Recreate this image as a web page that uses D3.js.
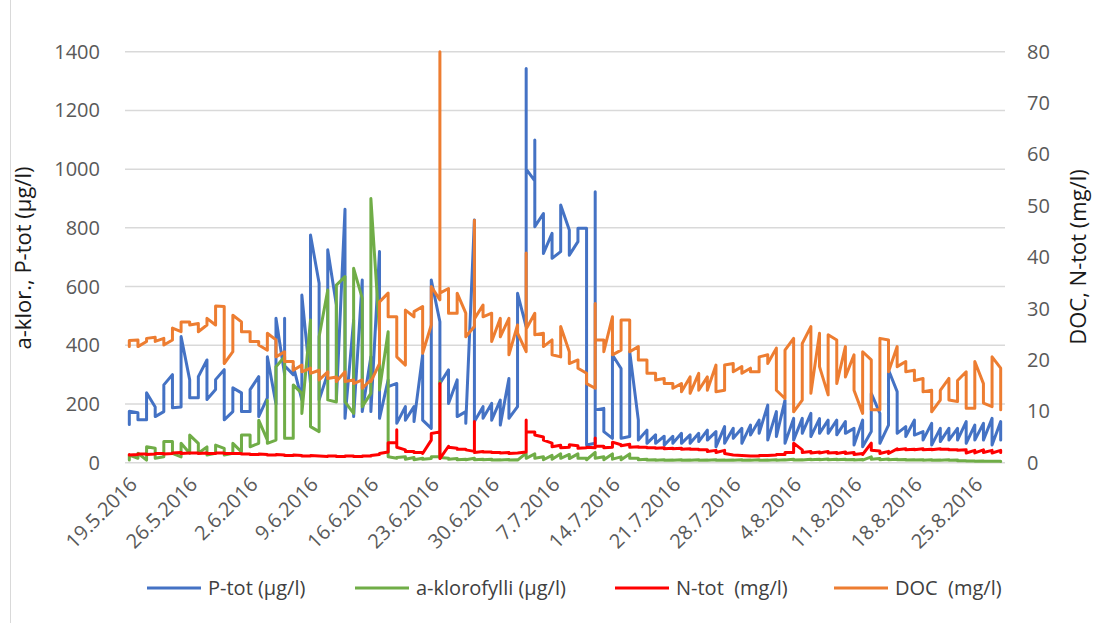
<!DOCTYPE html>
<html><head><meta charset="utf-8">
<script src="https://cdn.jsdelivr.net/npm/d3@7"></script>
<style>body{margin:0;background:#fff} text{font-family:"Open Sans","Noto Sans",sans-serif}</style>
</head><body><svg id="c" width="1109" height="623"></svg>
<script>
const startDate = "19.5.2016";
const tickLabels = ["19.5.2016","26.5.2016","2.6.2016","9.6.2016","16.6.2016","23.6.2016","30.6.2016","7.7.2016","14.7.2016","21.7.2016","28.7.2016","4.8.2016","11.8.2016","18.8.2016","25.8.2016"];
const leftTicks = [0,200,400,600,800,1000,1200,1400];
const rightTicks = [0,10,20,30,40,50,60,70,80];
const seriesNames = ["P-tot (µg/l)","a-klorofylli (µg/l)","N-tot  (mg/l)","DOC  (mg/l)"];
const seriesColors = ["#4472C4","#70AD47","#FF0000","#ED7D31"];

// values per day (several measurements per day share one date)
const ptot = [
[130,175],[170,146],[146,238],[190,157],[174,265],[300,187],[190,430],[282,221],[221,293],[350,215],
[249,283],[317,146],[174,255],[238,174],[174,249],[293,157],[221,361],[200,492],[300,492,330],[300,330],
[214,571],[270,776],[611,214],[304,725],[537,214],[863,151],[486,157],[622,174],[361,174],[719,151],
[282,259],[270,134],[191,145],[191,140],[367,145],[117,622],[480,270],[316,202],[282,157],[174,134],
[827,140],[191,151],[202,145],[213,128],[287,151],[191,577],[463,1343,1000],[960,1099,804],[849,713],[781,696],
[719,878],[793,707],[753,799],[799,60],[66,923,180],[185,106],[83,367],[321,83],[89,378],[145,77],
[111,66],[95,66],[90,60],[90,66],[100,66],[95,66],[100,72],[111,77],[106,54],[123,66],
[117,83],[117,66],[128,94],[145,100],[196,77],[174,89],[213,66],[151,77],[151,100],[168,89],
[150,100],[145,100],[145,95],[140,100],[117,60],[145,54],[106,236],[168,66],[128,316],[242,100],
[123,89],[145,94],[106,77],[134,60],[117,72],[117,77],[117,77],[140,66],[128,77],[134,77],
[151,60],[140,77]
];
const aklor = [
[9,26],[15,32],[9,54],[49,15],[20,72],[72,32],[20,66],[32,94],[66,32],[54,26],
[32,60],[49,26],[32,66],[37,94],[94,54],[66,145],[77,213,66],[77,327],[361,83],[83,265],
[236,168],[486,123],[106,429],[588,214],[207,605],[634,207],[168,662],[560,191],[236,900],[446,248],
[446,20],[15,18],[20,12],[18,10],[15,12],[14,20],[20,277,18],[15,12],[14,10],[12,10],
[15,10],[12,10],[12,9],[10,9],[11,9],[10,9],[32,15],[30,15],[20,10],[25,12],
[30,15],[28,14],[30,15],[15,10],[35,15],[20,10],[30,12],[20,10],[30,15],[15,10],
[12,9],[10,8],[10,8],[9,8],[10,8],[9,8],[10,8],[9,8],[10,8],[9,8],
[9,8],[10,8],[9,8],[10,8],[9,8],[10,8],[10,9],[12,9],[10,9],[12,10],
[12,10],[13,10],[12,10],[12,10],[11,9],[11,9],[20,12],[14,10],[13,10],[12,10],
[11,9],[10,9],[10,8],[10,8],[9,8],[10,8],[9,7],[7,6],[6,5],[6,5],
[5,5],[5,4]
];
const ntot = [
[1.6,1.5],[1.6,1.7],[1.7,1.6],[1.7,1.8],[1.8,1.7],[1.8,1.9],[2.0,1.8],[1.9,1.9],[1.9,1.8],[1.9,1.8],
[1.8,1.9],[1.9,1.8],[1.8,1.8],[1.8,1.7],[1.7,1.6],[1.6,1.7],[1.6,1.5],[1.5,1.6],[1.5,1.4],[1.4,1.5],
[1.4,1.3],[1.3,1.4],[1.3,1.3],[1.2,1.3],[1.3,1.2],[1.2,1.3],[1.3,1.2],[1.2,1.3],[1.3,1.4],[1.6,1.8],
[2.1,3.9],[3.9,6.4,3.0],[2.5,2.2],[2.2,2.0],[2.0,1.8],[4.4,5.7],[6.0,15.4,0.8],[3.2,3.0],[2.8,2.6],[2.6,2.5],
[2.2,8.0,2.0],[2.2,2.1],[2.1,2.0],[2.0,1.9],[2.0,1.8],[1.9,1.9],[2.1,8.3,6.0],[6.0,5.4],[5.0,4.4],[3.8,3.1],
[3.4,2.9],[3.0,3.5],[3.3,2.8],[2.9,3.0],[2.9,4.8,3.2],[3.2,2.9],[3.0,4.0],[3.5,3.3],[3.6,3.0],[3.1,3.0],
[3.0,2.9],[2.9,2.8],[2.9,2.7],[2.8,2.7],[2.8,2.6],[2.7,2.6],[2.6,2.5],[2.5,2.2],[2.4,2.0],[2.4,1.8],
[1.5,1.5],[1.4,1.4],[1.3,1.3],[1.3,1.4],[1.4,1.4],[1.5,1.6],[1.6,2.0],[2.0,3.8],[2.5,2.0],[2.2,1.9],
[2.1,1.9],[2.2,1.9],[2.0,1.8],[2.1,1.8],[2.0,1.6],[1.8,1.6],[3.8,2.4],[2.3,1.8],[2.2,1.8],[2.7,2.5],
[2.7,2.5],[2.6,2.5],[2.7,2.5],[2.6,2.5],[2.7,2.6],[2.6,2.5],[2.5,2.4],[2.5,1.9],[2.4,1.9],[2.5,2.0],
[2.4,1.9],[2.4,2.0]
];
const doc = [
[22.6,23.8],[23.9,22.6],[23.6,24.2],[24.4,23.6],[24.2,22.9],[23.9,26.2],[25.5,27.4],[27.4,26.8],[27.1,25.5],[26.8,28.1],
[26.8,30.5],[30.4,19.3],[21.6,28.7],[27.4,25.5],[25.5,23.6],[23.6,22.9],[21.9,25.2],[23.9,20.6],[21.6,19.7],[19.7,18.0],
[19.0,17.7],[18.4,17.4],[18.0,16.1],[17.7,16.4],[16.7,15.8],[17.7,15.8],[16.1,15.4],[16.1,14.5],[16.1,15.8],[19.3,31.3],
[33.0,28.4],[28.4,20.6],[19.0,29.7],[28.4,29.4],[30.4,21.3],[26.8,34.3],[31.7,80,33],[33.9,29.1],[29.1,33.0],[29.1,24.5],
[26.5,47.2,28],[30.7,28.4],[29.1,23.6],[28.1,24.5],[28.1,21.0],[26.8,25.2],[21.6,40.8,26],[29.1,24.9],[25.2,22.6],[23.9,21.0],
[20.6,26.5],[21.6,19.3],[20.0,18.4],[17.4,15.4],[14.5,31.0,23.9],[23.9,21.6],[28.4,21.0],[21.9,27.8],[27.8,21.6],[22.6,20.0],
[20.0,17.4],[17.4,16.1],[16.4,15.4],[15.4,14.5],[15.4,13.8],[16.7,13.5],[17.4,14.1],[16.7,14.1],[19.0,13.8],[14.1,19.0],
[19.3,17.7],[18.7,17.4],[18.4,17.7],[17.7,20.6],[21.0,19.3],[22.3,14.1],[12.5,21.9],[24.2,9.9],[12.2,23.2],[26.5,13.5],
[25.2,18.7],[13.2,24.9],[23.9,15.4],[22.6,16.7],[21.0,14.1],[9.6,21.6],[20.0,10.3],[10.3,24.2],[23.9,17.7],[22.6,18.7],
[19.7,17.7],[18.0,16.0],[16.4,13.8],[14.1,9.9],[12.2,14.1],[16.4,12.2],[11.9,16.0],[17.7,10.6],[10.6,19.7],[15.4,11.6],
[10.9,20.6],[18.4,10.3]
];

const svg = d3.select("#c");
const W = 1109, H = 623;
const plot = {left:125, right:1005, top:51.7, bottom:462.7};

const parse = d3.timeParse("%d.%m.%Y");
const d0 = parse(startDate);
const dates = d3.timeDay.range(d0, d3.timeDay.offset(d0, ptot.length));
const x = d3.scaleTime()
  .domain([d3.timeHour.offset(dates[0], -12), d3.timeHour.offset(dates[dates.length-1], 12)])
  .range([plot.left, plot.right]);
const yL = d3.scaleLinear().domain([0,1400]).range([plot.bottom, plot.top]);
const yR = d3.scaleLinear().domain([0,80]).range([plot.bottom, plot.top]);

// chart border
svg.append("rect").attr("x",10.5).attr("y",-5).attr("width",W+20).attr("height",H+10)
  .attr("fill","none").attr("stroke","#D9D9D9").attr("stroke-width",1);

// gridlines
svg.append("g").selectAll("line").data(leftTicks).join("line")
  .attr("x1",plot.left).attr("x2",plot.right)
  .attr("y1",d=>yL(d)).attr("y2",d=>yL(d))
  .attr("stroke","#D9D9D9").attr("stroke-width",1.5);

// left tick labels
svg.append("g").selectAll("text").data(leftTicks).join("text")
  .attr("x",100).attr("y",d=>yL(d)).attr("dy","0.35em")
  .attr("text-anchor","end").attr("fill","#595959").attr("font-size",20)
  .text(d=>d);
// right tick labels
svg.append("g").selectAll("text").data(rightTicks).join("text")
  .attr("x",1027).attr("y",d=>yR(d)).attr("dy","0.35em")
  .attr("text-anchor","start").attr("fill","#595959").attr("font-size",20)
  .text(d=>d);

// x tick labels
svg.append("g").selectAll("text").data(tickLabels).join("text")
  .attr("transform",d=>`translate(${x(parse(d))+4},${plot.bottom+18}) rotate(-45)`)
  .attr("text-anchor","end").attr("dy","0.35em")
  .attr("fill","#595959").attr("font-size",20)
  .text(d=>d);

// axis titles
svg.append("text").attr("transform","translate(23,258) rotate(-90)")
  .attr("text-anchor","middle").attr("dy","0.35em").attr("font-size",22).attr("fill","#1a1a1a")
  .text("a-klor., P-tot (µg/l)");
svg.append("text").attr("transform","translate(1078,257) rotate(-90)")
  .attr("text-anchor","middle").attr("dy","0.35em").attr("font-size",22).attr("fill","#1a1a1a")
  .text("DOC, N-tot (mg/l)");

// series
const series = [
  {vals:ptot, y:yL}, {vals:aklor, y:yL}, {vals:ntot, y:yR}, {vals:doc, y:yR}
];
series.forEach((s,k)=>{
  const pts = s.vals.flatMap((vs,i)=>vs.map(v=>({d:dates[i], v})));
  const line = d3.line().x(p=>x(p.d)).y(p=>s.y(p.v));
  svg.append("path").datum(pts).attr("d",line)
    .attr("fill","none").attr("stroke",seriesColors[k]).attr("stroke-width",3)
    .attr("stroke-linejoin","round").attr("stroke-linecap","round");
});

// legend
const legX = [147,355,615,834];
const lg = svg.append("g").selectAll("g").data(seriesNames).join("g")
  .attr("transform",(d,i)=>`translate(${legX[i]},588)`);
lg.append("line").attr("x1",0).attr("x2",54).attr("y1",0).attr("y2",0)
  .attr("stroke",(d,i)=>seriesColors[i]).attr("stroke-width",3);
lg.append("text").attr("x",61).attr("dy","0.35em").attr("font-size",20).attr("fill","#404040")
  .style("white-space","pre").text(d=>d);
</script></body></html>
